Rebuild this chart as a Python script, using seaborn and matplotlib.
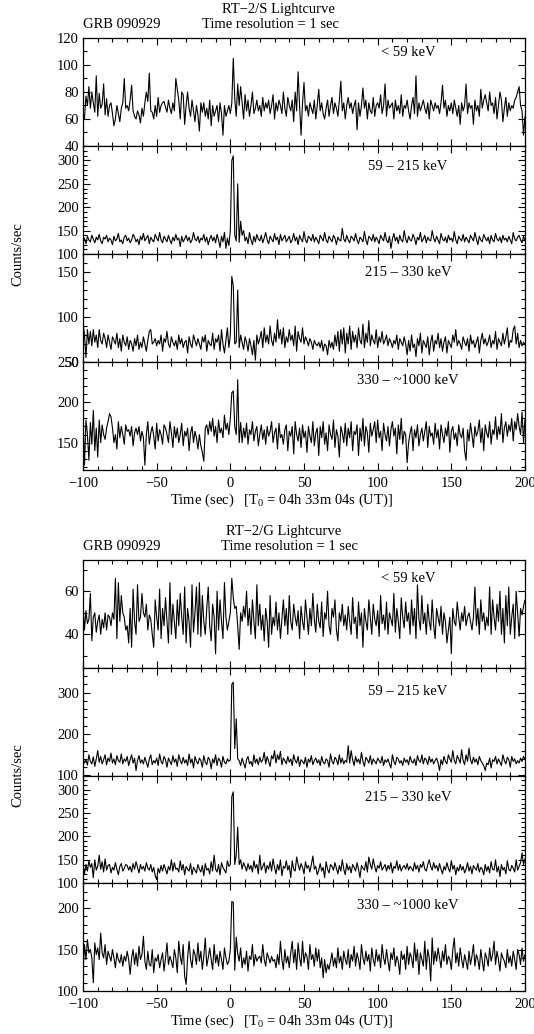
import numpy as np
import pandas as pd
import matplotlib
matplotlib.use('Agg')
import matplotlib.pyplot as plt
import seaborn as sns
from matplotlib.ticker import MultipleLocator

# RT-2 light curves of GRB 090929, 1 s bins from -100 s to +200 s
# values (counts/sec)

s_lt59 = [
    60, 60, 77, 70, 84, 68, 80, 72, 65, 92, 62, 79, 68, 71, 86, 63, 75, 62, 70, 72,
    64, 55, 60, 70, 64, 58, 68, 72, 90, 68, 70, 66, 74, 85, 66, 62, 60, 66, 63, 57,
    68, 62, 72, 80, 73, 94, 66, 65, 60, 70, 62, 76, 65, 70, 72, 73, 69, 65, 74, 68,
    64, 72, 66, 90, 82, 74, 60, 80, 78, 56, 70, 80, 68, 62, 74, 66, 58, 70, 63, 51,
    72, 65, 72, 62, 68, 60, 74, 55, 70, 62, 66, 70, 58, 72, 64, 48, 70, 62, 66, 70,
    64, 72, 105, 75, 62, 86, 70, 84, 72, 60, 78, 66, 74, 62, 70, 80, 64, 68, 74, 66,
    70, 62, 76, 66, 72, 68, 74, 64, 70, 78, 60, 72, 66, 74, 70, 64, 80, 68, 62, 76,
    70, 66, 74, 58, 80, 66, 95, 70, 48, 72, 87, 66, 70, 62, 72, 68, 64, 74, 60, 70,
    82, 66, 72, 64, 60, 68, 74, 62, 70, 76, 64, 72, 68, 62, 74, 88, 66, 72, 60, 70,
    76, 68, 72, 64, 70, 74, 52, 72, 62, 70, 83, 68, 74, 60, 72, 66, 64, 76, 62, 70,
    72, 68, 78, 64, 70, 86, 62, 74, 68, 70, 72, 60, 74, 66, 70, 64, 78, 62, 70, 68,
    74, 66, 60, 70, 76, 64, 92, 62, 72, 66, 70, 74, 68, 64, 72, 60, 74, 70, 66, 72,
    68, 70, 64, 72, 85, 68, 74, 62, 70, 66, 72, 64, 74, 68, 62, 70, 56, 72, 66, 70,
    86, 64, 72, 68, 70, 56, 74, 66, 70, 62, 82, 68, 74, 78, 72, 66, 80, 70, 72, 64,
    76, 60, 70, 80, 74, 58, 68, 76, 62, 72, 66, 70, 68, 74, 76, 80, 84, 70, 66, 48,
    62,
]

s_59_215 = [
    128, 134, 122, 138, 130, 126, 140, 132, 124, 136, 130, 142, 128, 122, 136, 132, 140, 126, 134, 130,
    120, 138, 128, 132, 144, 126, 130, 122, 136, 140, 128, 134, 124, 130, 142, 136, 126, 132, 120, 138,
    130, 144, 128, 134, 140, 122, 136, 130, 126, 142, 134, 128, 146, 130, 124, 138, 132, 126, 140, 130,
    122, 136, 128, 142, 130, 134, 116, 138, 126, 132, 140, 128, 136, 124, 130, 146, 132, 128, 138, 124,
    134, 130, 142, 126, 136, 120, 132, 140, 128, 136, 124, 142, 130, 114, 138, 126, 146, 112, 134, 118,
    150, 300, 310, 140, 128, 250, 125, 170, 140, 150, 128, 136, 122, 146, 130, 120, 138, 126, 142, 132,
    128, 140, 124, 134, 146, 130, 122, 138, 132, 126, 144, 130, 136, 120, 142, 128, 134, 140, 126, 132,
    138, 124, 130, 144, 128, 136, 120, 140, 132, 126, 148, 130, 124, 138, 134, 128, 142, 126, 136, 130,
    122, 140, 134, 128, 146, 130, 124, 138, 132, 126, 140, 134, 120, 136, 130, 128, 155, 132, 126, 140,
    130, 124, 138, 134, 128, 144, 130, 122, 136, 132, 126, 148, 130, 120, 138, 134, 128, 142, 126, 136,
    130, 122, 140, 134, 128, 146, 130, 124, 138, 112, 132, 144, 128, 136, 122, 140, 130, 126, 150, 132,
    124, 138, 130, 128, 142, 134, 120, 136, 130, 146, 126, 132, 140, 124, 136, 130, 128, 150, 134, 126,
    138, 130, 122, 144, 132, 128, 136, 124, 140, 130, 134, 126, 148, 130, 122, 138, 132, 128, 142, 126,
    136, 130, 124, 140, 134, 128, 146, 132, 120, 138, 130, 126, 142, 134, 128, 136, 122, 140, 130, 126,
    144, 132, 128, 136, 124, 140, 130, 134, 126, 138, 130, 122, 146, 132, 128, 136, 140, 130, 124, 138,
    128,
]

s_215_330 = [
    94, 80, 55, 86, 70, 84, 68, 86, 72, 80, 66, 86, 74, 70, 82, 76, 66, 80, 72, 64,
    78, 74, 70, 82, 66, 76, 62, 80, 72, 68, 78, 64, 74, 70, 62, 76, 68, 80, 64, 72,
    66, 78, 70, 62, 74, 84, 86, 70, 72, 76, 68, 74, 70, 80, 62, 76, 72, 84, 70, 66,
    78, 72, 68, 74, 64, 80, 70, 76, 66, 72, 74, 60, 78, 70, 66, 80, 74, 68, 76, 70,
    64, 78, 72, 80, 62, 74, 70, 68, 82, 64, 76, 72, 80, 62, 86, 70, 60, 74, 88, 66,
    80, 145, 135, 70, 72, 130, 66, 80, 72, 64, 78, 72, 62, 76, 68, 58, 74, 52, 80, 70,
    76, 84, 66, 88, 72, 80, 70, 90, 74, 68, 82, 72, 97, 76, 86, 70, 88, 66, 78, 72,
    86, 74, 80, 68, 90, 62, 84, 76, 72, 88, 70, 78, 74, 68, 76, 72, 64, 74, 70, 68,
    72, 66, 74, 62, 70, 68, 58, 74, 66, 72, 64, 80, 68, 84, 62, 86, 70, 88, 60, 82,
    70, 90, 64, 84, 72, 80, 66, 88, 74, 70, 92, 66, 82, 72, 96, 68, 80, 74, 70, 86,
    66, 78, 72, 84, 70, 74, 80, 68, 76, 72, 66, 74, 70, 80, 64, 76, 72, 68, 78, 70,
    58, 74, 62, 80, 66, 70, 56, 76, 68, 82, 60, 74, 70, 66, 78, 58, 72, 80, 62, 74,
    70, 82, 66, 76, 62, 72, 78, 60, 74, 70, 66, 80, 72, 86, 68, 74, 70, 64, 78, 72,
    68, 76, 62, 80, 70, 74, 66, 72, 78, 60, 74, 82, 70, 76, 68, 72, 80, 66, 74, 70,
    84, 64, 76, 72, 68, 82, 70, 78, 88, 66, 74, 72, 86, 90, 70, 82, 66, 74, 68, 72,
    70,
]

s_330_1000 = [
    180, 122, 178, 160, 128, 175, 148, 190, 140, 168, 132, 178, 150, 172, 160, 154, 168, 176, 186, 182,
    168, 150, 160, 142, 176, 156, 170, 160, 148, 172, 164, 166, 158, 170, 146, 162, 168, 160, 170, 152,
    164, 156, 122, 160, 176, 148, 162, 170, 158, 142, 174, 152, 166, 160, 148, 172, 168, 160, 150, 176,
    162, 144, 170, 156, 168, 150, 160, 174, 146, 164, 158, 168, 140, 162, 170, 150, 164, 156, 142, 160,
    146, 138, 127, 168, 172, 160, 176, 164, 180, 158, 170, 150, 178, 162, 168, 156, 184, 166, 174, 160,
    180, 212, 214, 170, 160, 228, 150, 175, 150, 168, 156, 174, 148, 166, 160, 176, 152, 164, 170, 146,
    160, 172, 154, 166, 148, 170, 158, 164, 176, 150, 162, 168, 142, 174, 156, 160, 148, 166, 172, 140,
    164, 158, 170, 136, 176, 160, 152, 168, 144, 172, 156, 164, 138, 170, 158, 150, 176, 146, 162, 168,
    134, 170, 156, 176, 148, 162, 140, 172, 160, 154, 178, 144, 166, 158, 132, 170, 162, 150, 174, 146,
    168, 156, 176, 140, 164, 160, 172, 134, 168, 152, 180, 146, 170, 162, 138, 174, 158, 166, 176, 150,
    178, 156, 164, 140, 174, 160, 152, 170, 146, 166, 176, 158, 168, 136, 172, 154, 180, 148, 164, 160,
    125, 150, 162, 170, 140, 166, 156, 172, 146, 160, 168, 152, 164, 176, 144, 170, 158, 162, 148, 174,
    156, 166, 142, 172, 160, 150, 168, 158, 176, 138, 164, 170, 154, 162, 146, 172, 160, 156, 168, 140,
    128, 166, 152, 174, 160, 144, 170, 158, 164, 178, 150, 168, 140, 172, 162, 156, 176, 148, 166, 160,
    182, 154, 170, 160, 186, 150, 168, 176, 158, 172, 164, 180, 152, 176, 166, 186, 170, 160, 188, 150,
    180,
]

g_lt59 = [
    54, 42, 51, 45, 47, 59, 37, 48, 50, 41, 46, 49, 40, 47, 43, 50, 42, 49, 48, 44,
    50, 47, 66, 38, 64, 46, 58, 50, 48, 42, 44, 36, 52, 34, 61, 46, 40, 63, 46, 48,
    59, 50, 48, 54, 42, 49, 47, 40, 34, 56, 48, 42, 61, 38, 52, 44, 57, 46, 36, 64,
    40, 54, 46, 38, 56, 44, 59, 48, 40, 62, 36, 52, 46, 34, 63, 41, 50, 62, 40, 64,
    39, 58, 46, 40, 52, 62, 44, 37, 54, 48, 31, 60, 42, 56, 46, 38, 64, 48, 42, 46,
    50, 66, 57, 52, 53, 44, 33, 50, 46, 53, 48, 60, 44, 52, 40, 56, 46, 38, 63, 44,
    54, 42, 49, 37, 52, 46, 34, 58, 40, 48, 44, 55, 42, 50, 38, 47, 56, 44, 52, 40,
    58, 46, 42, 54, 48, 44, 51, 38, 53, 46, 42, 56, 48, 40, 52, 44, 59, 47, 41, 54,
    46, 43, 55, 39, 50, 47, 60, 44, 40, 52, 48, 56, 42, 37, 50, 46, 54, 44, 49, 42,
    53, 46, 40, 57, 45, 48, 38, 55, 44, 50, 34, 52, 46, 42, 56, 48, 40, 54, 47, 44,
    51, 39, 58, 45, 49, 42, 55, 40, 50, 47, 44, 59, 41, 52, 46, 38, 57, 48, 43, 55,
    46, 50, 40, 56, 44, 52, 38, 63, 47, 42, 58, 45, 50, 40, 54, 46, 42, 56, 44, 38,
    52, 48, 44, 53, 40, 50, 46, 36, 42, 48, 31, 52, 46, 44, 55, 48, 42, 50, 46, 53,
    44, 48, 50, 46, 42, 48, 62, 44, 52, 40, 56, 46, 50, 42, 48, 44, 62, 40, 56, 48,
    42, 54, 46, 60, 40, 52, 36, 58, 44, 62, 40, 48, 54, 38, 60, 50, 39, 52, 49, 53,
    56,
]

g_59_215 = [
    142, 130, 138, 125, 150, 134, 128, 145, 122, 140, 160, 132, 146, 128, 138, 150, 126, 142, 134, 154,
    130, 140, 126, 148, 136, 132, 152, 128, 140, 134, 146, 124, 138, 150, 130, 142, 112, 136, 148, 130,
    138, 128, 144, 132, 120, 140, 150, 126, 136, 130, 142, 124, 152, 134, 128, 146, 138, 120, 142, 134,
    126, 148, 132, 140, 122, 150, 136, 128, 144, 130, 138, 124, 152, 130, 140, 118, 146, 134, 128, 142,
    136, 120, 148, 132, 126, 144, 138, 116, 140, 130, 150, 124, 142, 136, 120, 146, 132, 128, 140, 134,
    138, 320, 325, 165, 237, 140, 136, 124, 142, 130, 118, 138, 146, 128, 134, 122, 150, 130, 140, 126,
    144, 132, 138, 156, 128, 146, 134, 122, 148, 140, 160, 130, 150, 138, 158, 126, 142, 136, 128, 146,
    132, 140, 124, 150, 136, 130, 146, 122, 138, 134, 128, 144, 120, 140, 132, 148, 126, 136, 142, 130,
    138, 124, 146, 132, 128, 140, 136, 120, 152, 134, 128, 144, 138, 126, 150, 130, 142, 128, 136, 132,
    172, 130, 160, 138, 124, 146, 132, 140, 128, 156, 134, 122, 144, 138, 130, 148, 126, 140, 134, 128,
    142, 136, 130, 146, 124, 138, 132, 140, 128, 118, 150, 134, 126, 144, 140, 130, 136, 124, 142, 132,
    138, 126, 146, 134, 130, 140, 124, 148, 136, 132, 150, 128, 142, 138, 126, 146, 132, 140, 128, 136,
    142, 130, 112, 138, 126, 146, 134, 128, 150, 140, 132, 160, 136, 128, 148, 140, 130, 162, 136, 126,
    150, 134, 166, 138, 128, 144, 132, 140, 126, 146, 136, 130, 124, 112, 130, 126, 142, 118, 138, 134,
    146, 128, 140, 132, 124, 150, 136, 128, 144, 138, 120, 146, 134, 140, 128, 136, 130, 142, 134, 146,
    140,
]

g_215_330 = [
    138, 120, 140, 126, 148, 134, 142, 112, 150, 128, 136, 160, 130, 146, 124, 152, 128, 138, 140, 122,
    134, 128, 144, 130, 118, 136, 142, 126, 132, 140, 138, 128, 136, 124, 142, 130, 146, 134, 122, 140,
    130, 136, 126, 144, 132, 128, 140, 124, 134, 116, 108, 132, 122, 138, 126, 140, 130, 120, 136, 128,
    150, 126, 144, 130, 132, 124, 148, 128, 140, 118, 136, 130, 126, 142, 118, 134, 128, 122, 140, 130,
    124, 138, 116, 142, 128, 132, 120, 146, 126, 160, 130, 124, 140, 118, 144, 134, 128, 122, 148, 136,
    140, 285, 295, 140, 160, 220, 140, 150, 130, 144, 136, 126, 142, 130, 138, 124, 148, 132, 140, 120,
    160, 128, 136, 144, 122, 138, 130, 146, 126, 152, 134, 120, 140, 128, 150, 116, 136, 132, 148, 128,
    138, 112, 148, 130, 126, 156, 140, 128, 142, 134, 120, 146, 132, 138, 124, 140, 158, 130, 136, 118,
    128, 142, 126, 134, 112, 146, 130, 122, 140, 136, 128, 144, 132, 120, 138, 126, 150, 130, 118, 142,
    128, 136, 122, 140, 134, 126, 144, 130, 112, 138, 132, 128, 146, 124, 156, 140, 130, 152, 136, 124,
    138, 132, 146, 128, 134, 140, 126, 138, 130, 144, 122, 136, 132, 148, 128, 140, 126, 134, 138, 130,
    142, 128, 136, 132, 126, 144, 130, 138, 124, 140, 134, 146, 130, 126, 140, 150, 136, 128, 144, 132,
    138, 126, 142, 130, 120, 136, 128, 144, 132, 124, 148, 130, 138, 118, 134, 126, 140, 128, 136, 122,
    130, 144, 126, 136, 120, 138, 132, 128, 142, 124, 134, 130, 118, 140, 126, 136, 122, 146, 130, 128,
    150, 124, 136, 114, 140, 128, 134, 120, 148, 130, 126, 138, 132, 124, 150, 128, 136, 144, 165, 140,
    152,
]

g_330_1000 = [
    124, 156, 138, 162, 146, 150, 140, 110, 158, 144, 152, 138, 170, 146, 140, 156, 132, 148, 142, 136,
    150, 140, 128, 146, 138, 134, 144, 130, 142, 136, 148, 138, 120, 140, 150, 132, 146, 130, 154, 138,
    144, 166, 136, 126, 148, 132, 130, 150, 122, 140, 136, 144, 128, 138, 146, 124, 140, 158, 132, 142,
    136, 128, 150, 140, 122, 160, 142, 132, 156, 118, 108, 140, 160, 138, 128, 150, 144, 132, 158, 136,
    148, 126, 142, 164, 130, 140, 152, 138, 126, 156, 134, 144, 130, 148, 138, 126, 152, 140, 132, 136,
    150, 208, 207, 125, 165, 145, 136, 152, 128, 140, 132, 148, 124, 142, 138, 156, 130, 144, 136, 140,
    142, 134, 156, 138, 130, 146, 140, 134, 142, 136, 138, 128, 144, 132, 160, 138, 126, 150, 134, 142,
    128, 146, 160, 134, 150, 126, 158, 140, 130, 160, 134, 146, 142, 126, 156, 138, 144, 130, 152, 136,
    150, 128, 140, 116, 138, 122, 132, 126, 136, 146, 130, 140, 128, 152, 134, 142, 126, 148, 138, 132,
    150, 128, 144, 136, 154, 130, 146, 138, 126, 156, 140, 132, 148, 136, 144, 124, 152, 138, 130, 150,
    136, 144, 128, 156, 140, 132, 150, 136, 124, 146, 138, 152, 130, 142, 136, 120, 148, 138, 144, 126,
    154, 132, 146, 140, 128, 158, 136, 150, 120, 146, 138, 130, 160, 126, 150, 140, 112, 164, 132, 148,
    136, 152, 140, 128, 148, 136, 156, 132, 142, 138, 126, 150, 164, 134, 146, 130, 152, 138, 128, 144,
    136, 126, 148, 132, 142, 156, 130, 144, 138, 126, 150, 136, 124, 146, 140, 130, 152, 136, 144, 160,
    132, 148, 138, 124, 146, 140, 136, 128, 150, 134, 142, 130, 148, 138, 126, 150, 144, 132, 152, 136,
    144,
]

bands = ['< 59 keV', '59 \u2013 215 keV', '215 \u2013 330 keV', '330 \u2013 ~1000 keV']

sns.set_theme(style='ticks')
plt.rcParams['font.family'] = ['Liberation Serif', 'DejaVu Serif']
plt.rcParams['mathtext.fontset'] = 'custom'
plt.rcParams['mathtext.rm'] = 'Liberation Serif'
plt.rcParams['mathtext.it'] = 'Liberation Serif:italic'
for k in ['text.color', 'axes.labelcolor', 'xtick.color', 'ytick.color', 'axes.edgecolor']:
    plt.rcParams[k] = 'black'

W, H = 534, 1034
FS = 10.5
fig = plt.figure(figsize=(W / 100, H / 100), dpi=100)
fig.patch.set_facecolor('white')

X0, X1 = 83, 525   # pixel edges of the time axis


def px_box(top, bottom):
    return [X0 / W, 1 - bottom / H, (X1 - X0) / W, (bottom - top) / H]


def draw_group(top, bottom, series, ylims, steps, label_dy, title, title_x, res_x):
    h = (bottom - top) / 4
    for k in range(4):
        ax = fig.add_axes(px_box(top + k * h, top + (k + 1) * h))
        vals = series[k]
        df = pd.DataFrame({'time': np.arange(-100, -100 + len(vals)), 'rate': vals})
        sns.lineplot(data=df, x='time', y='rate', ax=ax, color='black',
                     linewidth=0.8, estimator=None)
        ax.set_xlim(-100, 200)
        ax.set_ylim(*ylims[k])
        ax.xaxis.set_major_locator(MultipleLocator(50))
        ax.xaxis.set_minor_locator(MultipleLocator(10))
        ax.yaxis.set_major_locator(MultipleLocator(steps[k][0]))
        ax.yaxis.set_minor_locator(MultipleLocator(steps[k][1]))
        ax.tick_params(which='both', direction='in', top=True, right=True,
                       labelsize=FS, width=0.8)
        ax.tick_params(axis='y', pad=3)
        ax.tick_params(axis='x', pad=5)
        ax.tick_params(which='major', length=5)
        ax.tick_params(which='minor', length=3)
        ax.set_xlabel('')
        ax.set_ylabel('')
        for sp in ax.spines.values():
            sp.set_linewidth(0.9)
            sp.set_visible(True)
        if k < 3:
            ax.tick_params(labelbottom=False)
        ax.text((408 - X0) / (X1 - X0), 1 - label_dy[k] / h, bands[k],
                transform=ax.transAxes, ha='center', va='center', fontsize=FS)
    fig.text(title_x / W, 1 - (top - 29) / H, title, ha='center', va='center', fontsize=FS)
    fig.text(X0 / W, 1 - (top - 13) / H, 'GRB 090929', ha='left', va='center', fontsize=FS)
    fig.text(res_x / W, 1 - (top - 13) / H, 'Time resolution = 1 sec',
             ha='center', va='center', fontsize=FS)
    fig.text(18 / W, 1 - (top + bottom) / 2 / H, 'Counts/sec', rotation=90,
             ha='center', va='center', fontsize=FS)
    fig.text(282 / W, 1 - (bottom + 30) / H,
             'Time (sec)   [T$_0$ = 04h 33m 04s (UT)]',
             ha='center', va='center', fontsize=FS)


draw_group(38, 470,
           [s_lt59, s_59_215, s_215_330, s_330_1000],
           [(40, 120), (100, 331), (50, 170), (116, 250)],
           [(20, 10), (50, 10), (50, 10), (50, 10)],
           [15, 21, 19, 19],
           'RT\u22122/S Lightcurve', 278, 270)

draw_group(560, 991,
           [g_lt59, g_59_215, g_215_330, g_330_1000],
           [(24.5, 74.5), (100, 360), (100, 330), (100, 230)],
           [(20, 10), (100, 20), (50, 10), (50, 10)],
           [18, 24, 22, 22],
           'RT\u22122/G Lightcurve', 284, 289)

fig.savefig('out.png', dpi=100, facecolor='white')
